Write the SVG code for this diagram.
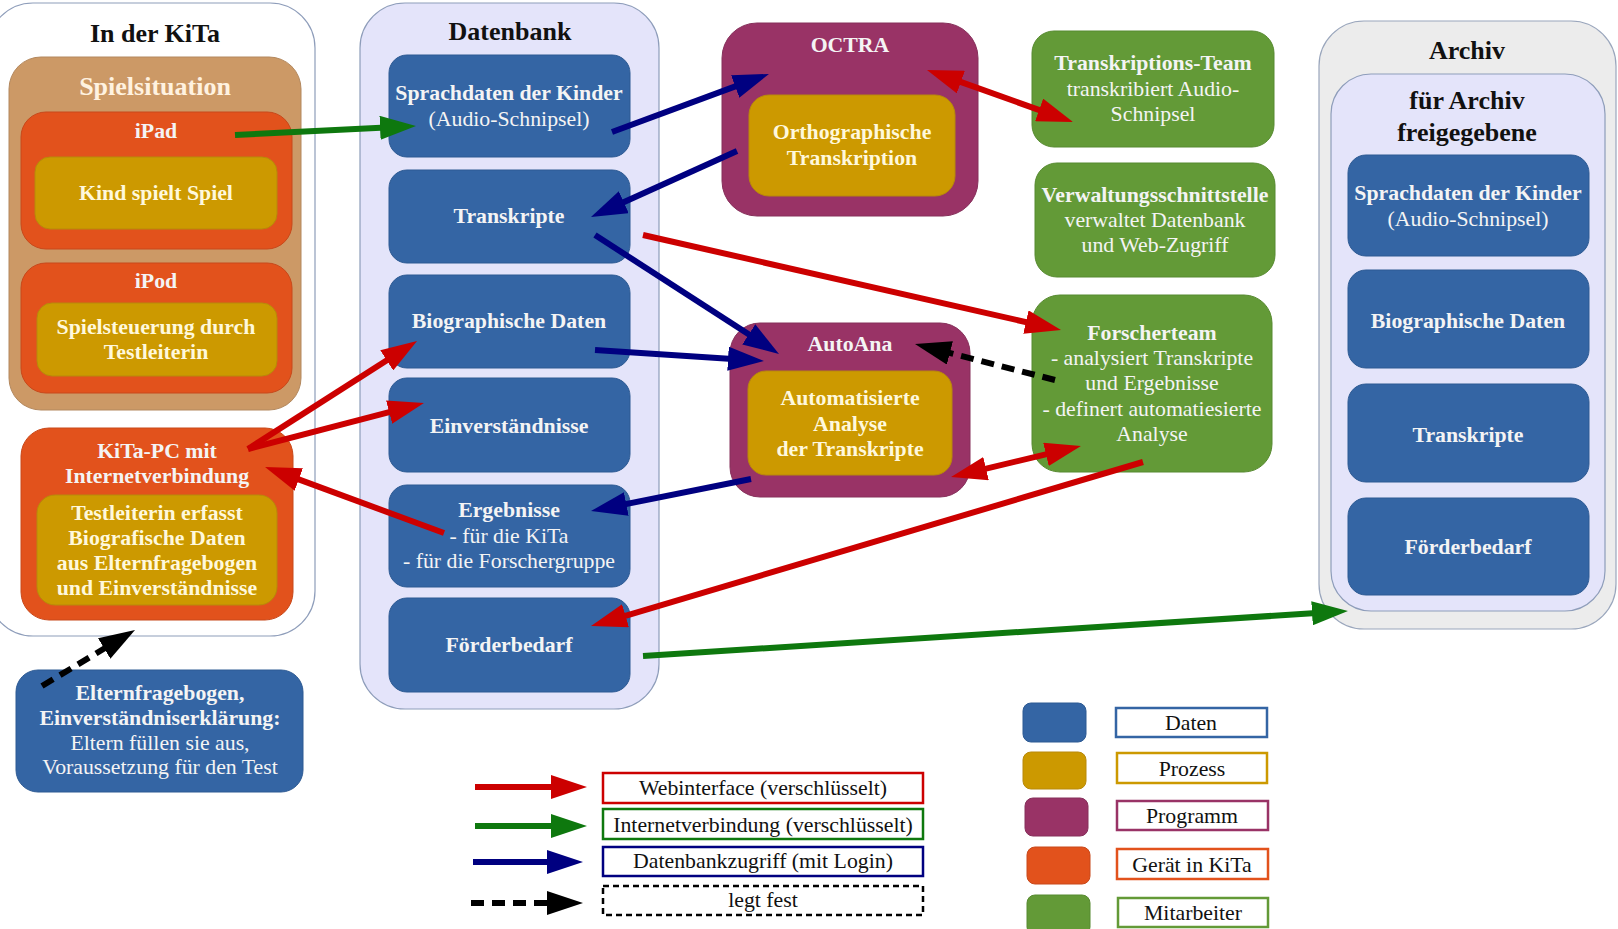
<svg xmlns="http://www.w3.org/2000/svg" width="1618" height="929" viewBox="0 0 1618 929">
<style>
text{font-family:"Liberation Serif","Times New Roman",serif;text-anchor:middle}
.t{font-size:26px;font-weight:bold;fill:#111}
.b{font-size:21.8px;font-weight:bold}
.r{font-size:21.8px}
.w{fill:#F4F4F4}
.y{fill:#FFF8DC}
.cont{fill:#fff;stroke:#8E9DBA;stroke-width:1.2}
.lav{fill:#E4E4FA;stroke:#8E9DBA;stroke-width:1.2}
.gray{fill:#ECECEC;stroke:#9AA6BC;stroke-width:1.2}
.blue{fill:#3465A4;stroke:#2D5A93;stroke-width:1}
.gold{fill:#CC9900;stroke:#B8890A;stroke-width:1}
.orange{fill:#E2521C;stroke:#C8481A;stroke-width:1}
.tan{fill:#CC9966;stroke:#B3885E;stroke-width:1}
.purple{fill:#993366;stroke:#86305B;stroke-width:1}
.green{fill:#639A37;stroke:#578A30;stroke-width:1}
.lg{font-size:21.8px;fill:#111}
.c{fill:none;stroke-width:6}
.red{stroke:#CC0000}
.grn{stroke:#0E780E}
.nav{stroke:#000080}
.blk{stroke:#000;stroke-dasharray:13 8}
</style>
<defs>
<marker id="aR" markerUnits="userSpaceOnUse" markerWidth="36" markerHeight="24" refX="16" refY="12" orient="auto-start-reverse"><path d="M0,0 L36,12 L0,24 z" fill="#CC0000"/></marker>
<marker id="aG" markerUnits="userSpaceOnUse" markerWidth="36" markerHeight="24" refX="16" refY="12" orient="auto-start-reverse"><path d="M0,0 L36,12 L0,24 z" fill="#0E780E"/></marker>
<marker id="aN" markerUnits="userSpaceOnUse" markerWidth="36" markerHeight="24" refX="16" refY="12" orient="auto-start-reverse"><path d="M0,0 L36,12 L0,24 z" fill="#000080"/></marker>
<marker id="aK" markerUnits="userSpaceOnUse" markerWidth="36" markerHeight="24" refX="16" refY="12" orient="auto-start-reverse"><path d="M0,0 L36,12 L0,24 z" fill="#000"/></marker>
</defs>

<g id="kita">
<rect class="cont" x="-12" y="3" width="327" height="633" rx="45"/>
<text class="t" x="155" y="42">In der KiTa</text>
</g>
<g id="spielsituation">
<rect class="tan" x="9" y="57" width="292" height="353" rx="32"/>
<text class="t" x="155" y="95" style="fill:#FFF2E0">Spielsituation</text>
</g>
<g id="ipad">
<rect class="orange" x="21" y="112" width="271" height="137" rx="25"/>
<text class="b w" x="156" y="138">iPad</text>
</g>
<g id="kind-spielt">
<rect class="gold" x="35" y="157" width="242" height="72" rx="15"/>
<text class="b y" x="156" y="200">Kind spielt Spiel</text>
</g>
<g id="ipod">
<rect class="orange" x="21" y="263" width="271" height="130" rx="25"/>
<text class="b w" x="156" y="288">iPod</text>
</g>
<g id="spielsteuerung">
<rect class="gold" x="37" y="303" width="240" height="73" rx="15"/>
<text class="b y" x="156" y="334">Spielsteuerung durch</text>
<text class="b y" x="156" y="359">Testleiterin</text>
</g>
<g id="kita-pc">
<rect class="orange" x="21" y="428" width="272" height="192" rx="28"/>
<text class="b w" x="157" y="458">KiTa-PC mit</text>
<text class="b w" x="157" y="483">Internetverbindung</text>
</g>
<g id="testleiterin-erfasst">
<rect class="gold" x="37" y="495" width="240" height="110" rx="18"/>
<text class="b y" x="157" y="520">Testleiterin erfasst</text>
<text class="b y" x="157" y="545">Biografische Daten</text>
<text class="b y" x="157" y="570">aus Elternfragebogen</text>
<text class="b y" x="157" y="595">und Einverständnisse</text>
</g>
<g id="elternfragebogen">
<rect class="blue" x="16" y="670" width="287" height="122" rx="22"/>
<text class="b w" x="160" y="700">Elternfragebogen,</text>
<text class="b w" x="160" y="725">Einverständniserklärung:</text>
<text class="r w" x="160" y="750">Eltern füllen sie aus,</text>
<text class="r w" x="160" y="774">Voraussetzung für den Test</text>
</g>

<g id="datenbank">
<rect class="lav" x="360" y="3" width="299" height="706" rx="45"/>
<text class="t" x="510" y="40">Datenbank</text>
</g>
<g id="db-sprachdaten">
<rect class="blue" x="389" y="55" width="241" height="102" rx="18"/>
<text class="b w" x="509" y="100">Sprachdaten der Kinder</text>
<text class="r w" x="509" y="126">(Audio-Schnipsel)</text>
</g>
<g id="db-transkripte">
<rect class="blue" x="389" y="170" width="241" height="93" rx="18"/>
<text class="b w" x="509" y="223">Transkripte</text>
</g>
<g id="db-biographische">
<rect class="blue" x="389" y="275" width="241" height="93" rx="18"/>
<text class="b w" x="509" y="328">Biographische Daten</text>
</g>
<g id="db-einverstaendnisse">
<rect class="blue" x="389" y="378" width="241" height="94" rx="18"/>
<text class="b w" x="509" y="433">Einverständnisse</text>
</g>
<g id="db-ergebnisse">
<rect class="blue" x="389" y="485" width="241" height="102" rx="18"/>
<text class="b w" x="509" y="517">Ergebnisse</text>
<text class="r w" x="509" y="543">- für die KiTa</text>
<text class="r w" x="509" y="568">- für die Forschergruppe</text>
</g>
<g id="db-foerderbedarf">
<rect class="blue" x="389" y="598" width="241" height="94" rx="18"/>
<text class="b w" x="509" y="652">Förderbedarf</text>
</g>

<g id="octra">
<rect class="purple" x="722" y="23" width="256" height="193" rx="35"/>
<text class="b w" x="850" y="52">OCTRA</text>
</g>
<g id="ortho">
<rect class="gold" x="749" y="95" width="206" height="101" rx="20"/>
<text class="b y" x="852" y="139">Orthographische</text>
<text class="b y" x="852" y="165">Transkription</text>
</g>
<g id="autoana">
<rect class="purple" x="730" y="323" width="240" height="174" rx="30"/>
<text class="b w" x="850" y="351">AutoAna</text>
</g>
<g id="auto-analyse">
<rect class="gold" x="748" y="371" width="204" height="104" rx="18"/>
<text class="b y" x="850" y="405">Automatisierte</text>
<text class="b y" x="850" y="431">Analyse</text>
<text class="b y" x="850" y="456">der Transkripte</text>
</g>

<g id="transkriptions-team">
<rect class="green" x="1032" y="31" width="242" height="116" rx="22"/>
<text class="b w" x="1153" y="70">Transkriptions-Team</text>
<text class="r w" x="1153" y="96">transkribiert Audio-</text>
<text class="r w" x="1153" y="121">Schnipsel</text>
</g>
<g id="verwaltung">
<rect class="green" x="1035" y="163" width="240" height="114" rx="22"/>
<text class="b w" x="1155" y="202">Verwaltungsschnittstelle</text>
<text class="r w" x="1155" y="227">verwaltet Datenbank</text>
<text class="r w" x="1155" y="252">und Web-Zugriff</text>
</g>
<g id="forscherteam">
<rect class="green" x="1032" y="295" width="240" height="177" rx="28"/>
<text class="b w" x="1152" y="340">Forscherteam</text>
<text class="r w" x="1152" y="365">- analysiert Transkripte</text>
<text class="r w" x="1152" y="390">und Ergebnisse</text>
<text class="r w" x="1152" y="416">- definert automatiesierte</text>
<text class="r w" x="1152" y="441">Analyse</text>
</g>

<g id="archiv">
<rect class="gray" x="1319" y="21" width="297" height="608" rx="45"/>
<text class="t" x="1467" y="59">Archiv</text>
</g>
<g id="freigegeben">
<rect class="lav" x="1331" y="74" width="274" height="537" rx="40"/>
<text class="t" x="1467" y="109">für Archiv</text>
<text class="t" x="1467" y="141">freigegebene</text>
</g>
<g id="ar-sprachdaten">
<rect class="blue" x="1348" y="155" width="241" height="101" rx="18"/>
<text class="b w" x="1468" y="200">Sprachdaten der Kinder</text>
<text class="r w" x="1468" y="226">(Audio-Schnipsel)</text>
</g>
<g id="ar-biographische">
<rect class="blue" x="1348" y="270" width="241" height="98" rx="18"/>
<text class="b w" x="1468" y="328">Biographische Daten</text>
</g>
<g id="ar-transkripte">
<rect class="blue" x="1348" y="384" width="241" height="98" rx="18"/>
<text class="b w" x="1468" y="442">Transkripte</text>
</g>
<g id="ar-foerderbedarf">
<rect class="blue" x="1348" y="498" width="241" height="97" rx="18"/>
<text class="b w" x="1468" y="554">Förderbedarf</text>
</g>

<g id="connectors">
<line class="c grn" x1="235" y1="135" x2="396" y2="127" marker-end="url(#aG)"/>
<line class="c nav" x1="612" y1="132" x2="750.2" y2="80.9" marker-end="url(#aN)"/>
<line class="c nav" x1="737" y1="151" x2="609.2" y2="208.8" marker-end="url(#aN)"/>
<line class="c red" x1="945.8" y1="76.7" x2="1054.2" y2="115.3" marker-start="url(#aR)" marker-end="url(#aR)"/>
<line class="c nav" x1="595" y1="235" x2="762.2" y2="343.1" marker-end="url(#aN)"/>
<line class="c red" x1="643" y1="235" x2="1041.5" y2="325.6" marker-end="url(#aR)"/>
<line class="c nav" x1="595" y1="350" x2="744" y2="359.7" marker-end="url(#aN)"/>
<line class="c blk" x1="1055" y1="380" x2="934.4" y2="349" marker-end="url(#aK)"/>
<line class="c red" x1="970.5" y1="472.4" x2="1061.5" y2="450.6" marker-start="url(#aR)" marker-end="url(#aR)"/>
<line class="c nav" x1="751" y1="479" x2="610.6" y2="507.1" marker-end="url(#aN)"/>
<line class="c red" x1="1143" y1="462" x2="610.2" y2="620.3" marker-end="url(#aR)"/>
<line class="c grn" x1="643" y1="656" x2="1328" y2="612.3" marker-end="url(#aG)"/>
<line class="c red" x1="248" y1="449" x2="400.2" y2="351.8" marker-end="url(#aR)"/>
<line class="c red" x1="248" y1="449" x2="404.6" y2="408.1" marker-end="url(#aR)"/>
<line class="c red" x1="444" y1="533" x2="283.8" y2="473.9" marker-end="url(#aR)"/>
<line class="c blk" x1="42" y1="686" x2="117.9" y2="640.3" marker-end="url(#aK)"/>
</g>

<g id="legend-lines">
<line class="c red" x1="475" y1="787" x2="567" y2="787" marker-end="url(#aR)"/>
<rect x="603" y="773" width="320" height="30" fill="#fff" stroke="#CC0000" stroke-width="2.5"/>
<text class="lg" x="763" y="795">Webinterface (verschlüsselt)</text>
<line class="c grn" x1="475" y1="826" x2="567" y2="826" marker-end="url(#aG)"/>
<rect x="603" y="809" width="320" height="30" fill="#fff" stroke="#0E780E" stroke-width="2.5"/>
<text class="lg" x="763" y="832">Internetverbindung (verschlüsselt)</text>
<line class="c nav" x1="473" y1="862" x2="563" y2="862" marker-end="url(#aN)"/>
<rect x="603" y="847" width="320" height="29" fill="#fff" stroke="#000080" stroke-width="2.5"/>
<text class="lg" x="763" y="868">Datenbankzugriff (mit Login)</text>
<line class="c blk" x1="471" y1="903" x2="563" y2="903" marker-end="url(#aK)"/>
<rect x="603" y="886" width="320" height="29" fill="#fff" stroke="#000" stroke-width="2.5" stroke-dasharray="6 4"/>
<text class="lg" x="763" y="907">legt fest</text>
</g>

<g id="legend-colors">
<rect class="blue" x="1023" y="703" width="63" height="39" rx="8"/>
<rect x="1116" y="708" width="151" height="29" fill="#fff" stroke="#3465A4" stroke-width="2.5"/>
<text class="lg" x="1191" y="730">Daten</text>
<rect class="gold" x="1023" y="752" width="63" height="37" rx="8"/>
<rect x="1117" y="753" width="150" height="30" fill="#fff" stroke="#CC9900" stroke-width="2.5"/>
<text class="lg" x="1192" y="776">Prozess</text>
<rect class="purple" x="1025" y="798" width="63" height="38" rx="8"/>
<rect x="1117" y="801" width="151" height="29" fill="#fff" stroke="#993366" stroke-width="2.5"/>
<text class="lg" x="1192" y="823">Programm</text>
<rect class="orange" x="1027" y="847" width="63" height="37" rx="8"/>
<rect x="1117" y="849" width="151" height="30" fill="#fff" stroke="#E2521C" stroke-width="2.5"/>
<text class="lg" x="1192" y="872">Gerät in KiTa</text>
<rect class="green" x="1027" y="895" width="63" height="40" rx="8"/>
<rect x="1118" y="898" width="150" height="29" fill="#fff" stroke="#639A37" stroke-width="2.5"/>
<text class="lg" x="1193" y="920">Mitarbeiter</text>
</g>
</svg>
